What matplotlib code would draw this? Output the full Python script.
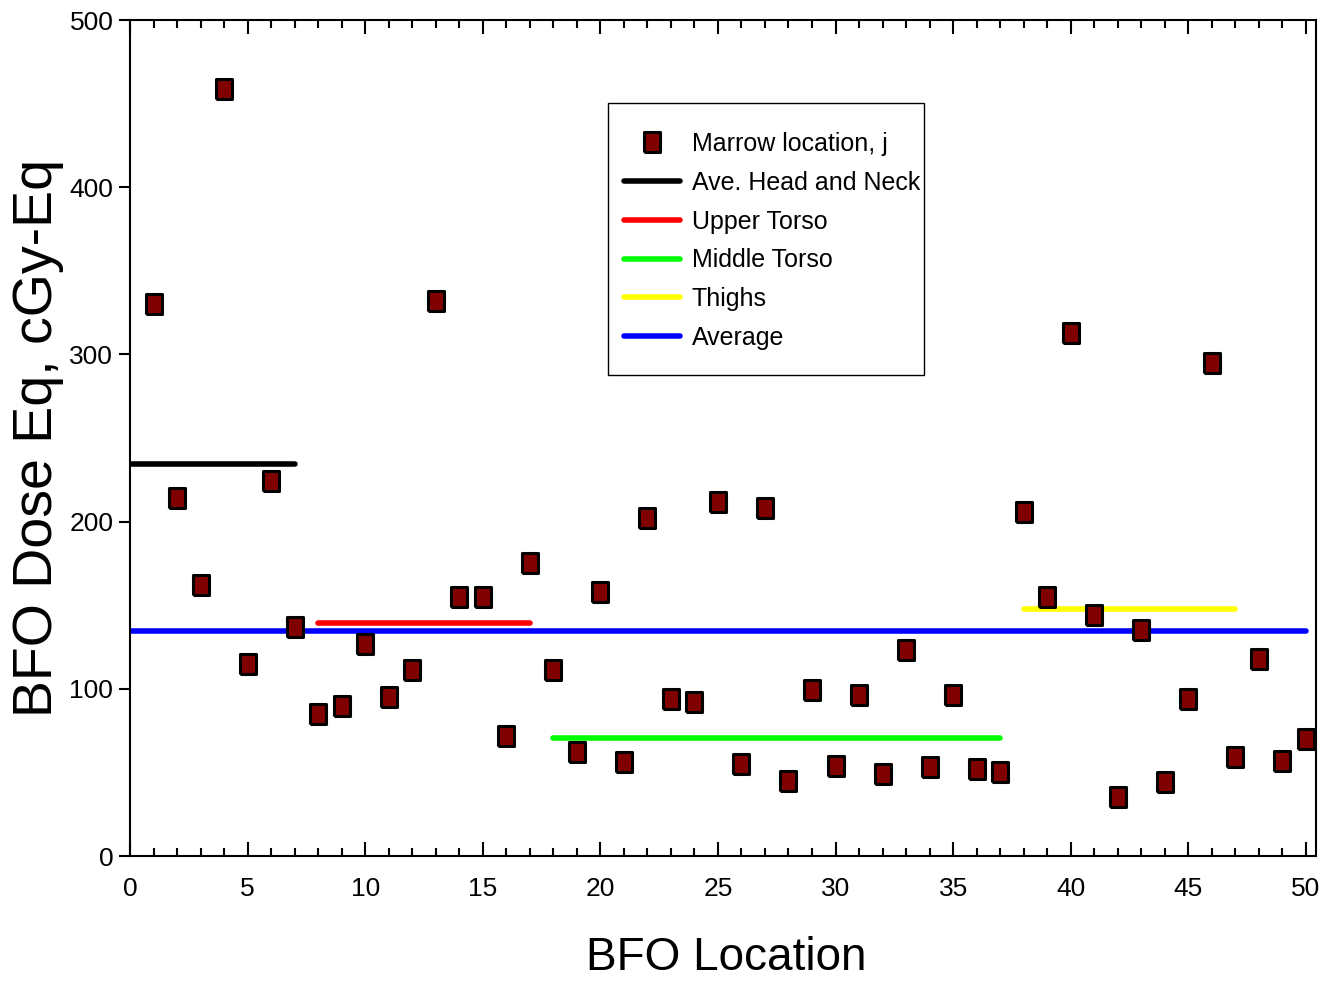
import matplotlib
matplotlib.use("Agg")
import matplotlib.pyplot as plt
from matplotlib.ticker import MultipleLocator
from matplotlib.patches import Rectangle

plt.rcParams['font.family'] = ['Liberation Sans', 'DejaVu Sans']

locations = list(range(1, 51))
dose = [330, 214, 162, 459, 115, 224, 137, 85, 90, 127,
        95, 111, 332, 155, 155, 72, 175, 111, 62, 158,
        56, 202, 94, 92, 212, 55, 208, 45, 99, 54,
        96, 49, 123, 53, 96, 52, 50, 206, 155, 313,
        144, 35, 135, 44, 94, 295, 59, 118, 57, 70]

seg_labels = ["Ave. Head and Neck", "Upper Torso", "Middle Torso", "Thighs", "Average"]
seg_x0 = [0, 8, 18, 38, 0]
seg_x1 = [7, 17, 37, 47, 50]
seg_y = [234.5, 139.5, 70.5, 147.5, 134.5]
seg_colors = ["#000000", "#ff0000", "#00ff00", "#ffff00", "#0000ff"]

W, H = 1319, 984
fig = plt.figure(figsize=(W/100, H/100), dpi=100)
ax = fig.add_axes([130/W, 1-856/H, (1316-130)/W, (856-20)/H])

rect = [(-0.75, -1), (0.75, -1), (0.75, 1), (-0.75, 1), (-0.75, -1)]

for x0, x1, y, c, lab in zip(seg_x0, seg_x1, seg_y, seg_colors, seg_labels):
    ax.plot([x0, x1], [y, y], color=c, lw=4, solid_capstyle='round', label=lab, zorder=2)

ax.plot(locations, dose, linestyle='none', marker=rect, markersize=15,
        markerfacecolor='#800000', markeredgecolor='black', markeredgewidth=2.2,
        label='Marrow location, j', zorder=3)

ax.set_xlim(0, 50.43)
ax.set_ylim(0, 500)
ax.xaxis.set_major_locator(MultipleLocator(5))
ax.xaxis.set_minor_locator(MultipleLocator(1))
ax.yaxis.set_major_locator(MultipleLocator(100))
ax.tick_params(axis='x', which='both', direction='in', top=True, bottom=True)
ax.tick_params(axis='x', which='major', length=10, width=1.5, labelsize=19, pad=15)
ax.tick_params(axis='x', which='minor', length=6, width=1.5)
ax.tick_params(axis='y', which='major', direction='out', length=8, width=1.5, labelsize=19, pad=4)
for s in ax.spines.values():
    s.set_linewidth(1.5)

ax.set_xlabel('BFO Location', fontsize=33)
ax.xaxis.set_label_coords(0.503, (856-936)/836)
ax.set_ylabel('BFO Dose Eq, cGy-Eq', fontsize=40)
ax.yaxis.set_label_coords((64-130)/1186, 0.5)

# legend frame
frame = Rectangle((608/W, 1-375/H), (924-608)/W, (375-103)/H,
                  transform=fig.transFigure, facecolor='white',
                  edgecolor='black', linewidth=1.0, zorder=4, clip_on=False)
ax.add_patch(frame)

handles, labels = ax.get_legend_handles_labels()
order = [5, 0, 1, 2, 3, 4]
leg = ax.legend([handles[i] for i in order], [labels[i] for i in order],
                loc='upper left', bbox_to_anchor=(624/W, 1-132/H),
                bbox_transform=fig.transFigure,
                frameon=False, handlelength=2.24, labelspacing=0.59, borderpad=0,
                handletextpad=0.48, borderaxespad=0,
                prop={'family': ['Liberation Sans'], 'size': 18})
leg.set_zorder(5)

fig.savefig('out.png', dpi=100)
